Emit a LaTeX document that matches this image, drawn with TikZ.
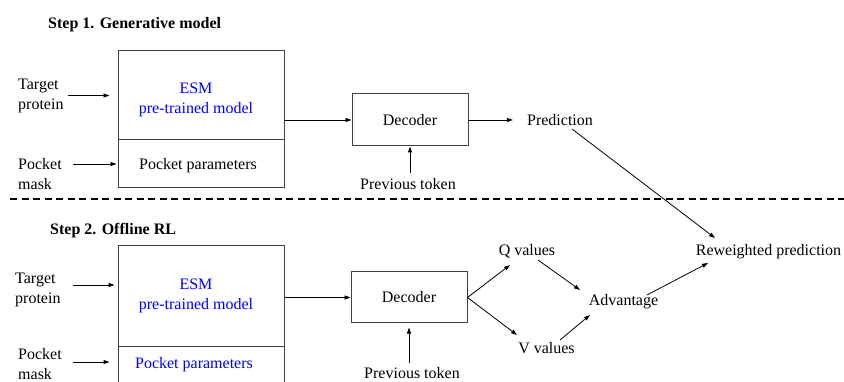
\documentclass[tikz,border=0pt]{standalone}
\usepackage{fontspec}
\setmainfont{Liberation Serif}
\usetikzlibrary{arrows.meta,calc}
\begin{document}
\begin{tikzpicture}[x=1pt,y=-1pt,
  font=\fontsize{16}{19.5}\selectfont,
  txt/.style={inner sep=0pt, align=left, anchor=west},
  ctxt/.style={inner sep=0pt, align=center},
  blk/.style={draw=black!75, line width=1pt, inner sep=0pt},
  arr/.style={-{Triangle[length=6pt,width=4pt]}, line width=0.8pt},
  ttl/.style={font=\fontsize{16}{19}\selectfont\bfseries, inner sep=0pt, anchor=base west},
  hl/.style={text=blue}]
\useasboundingbox (0,0) rectangle (844,382);
\clip (0,0) rectangle (844,382);

% ---------- Step 1 ----------
\node[ttl] (t1) at (48,29) {Step 1. Generative model};
\node[blk, minimum width=166pt, minimum height=89pt] (esm1) at (201,95.5) {};
\node[blk, minimum width=166pt, minimum height=48pt] (pp1) at (201,164) {};
\node[ctxt, hl] (esm1t) at (196,100) {ESM\\pre-trained model};
\node[ctxt] (pp1t) at (198,166) {Pocket parameters};
\node[txt] (tp1) at (18,96) {Target\\protein};
\node[txt] (pm1) at (18,174) {Pocket\\mask};
\node[blk, minimum width=116pt, minimum height=52pt] (dec1) at (410,120) {Decoder};
\node[ctxt] (pred) at (560,120) {Prediction};
\node[ctxt] (prev1) at (408,184) {Previous token};

\draw[arr] ([xshift=4pt]tp1.east |- esm1.west) -- ([xshift=-8pt]esm1.west);
\draw[arr] ([xshift=11pt]pm1.east |- pp1.west) -- ([xshift=-1pt]pp1.west);
\draw[arr] (dec1.west -| esm1.east) -- (dec1.west);
\draw[arr] (dec1.east) -- ([xshift=-14pt]pred.west);
\draw[arr] ([yshift=5pt]prev1.north -| dec1.south) -- (dec1.south);

% ---------- separator ----------
\coordinate (sepL) at (10,199);
\coordinate (sepR) at (844,199);
\draw[line width=1.2pt, dash pattern=on 7pt off 4.5pt] (sepL) -- (sepR);

% ---------- Step 2 ----------
\node[ttl] (t2) at (50,235) {Step 2. Offline RL};
\node[blk, minimum width=166pt, minimum height=100pt] (esm2) at (201,296) {};
\node[blk, minimum width=166pt, minimum height=46pt] (pp2) at (201,369) {};
\node[ctxt, hl] (esm2t) at (196,296) {ESM\\pre-trained model};
\node[ctxt, hl] (pp2t) at (194,365) {Pocket parameters};
\node[txt] (tp2) at (15,290) {Target\\protein};
\node[txt] (pm2) at (18,364) {Pocket\\mask};
\node[blk, minimum width=116pt, minimum height=51pt] (dec2) at (409,297.5) {Decoder};
\node[ctxt] (prev2) at (412,373.5) {Previous token};
\node[ctxt] (qv) at (527,251.5) {Q values};
\node[ctxt] (vv) at (546.5,348) {V values};
\node[ctxt] (adv) at (623.5,302) {Advantage};
\node[ctxt] (rew) at (768.5,252) {Reweighted prediction};

\draw[arr] ([shift={(12pt,5pt)}]tp2.east) -- ([shift={(-3pt,5pt)}]tp2.east -| esm2.west);
\draw[arr] ([shift={(11pt,2pt)}]pm2.east) -- ([shift={(-8pt,2pt)}]pm2.east -| pp2.west);
\draw[arr] (dec2.west -| esm2.east) -- (dec2.west);
\draw[arr] ([yshift=5pt]prev2.north -| dec2.south) -- ([yshift=-4pt]dec2.south);
\draw[arr] (dec2.east) -- ($(qv.center)+(-17,13.5)$);
\draw[arr] (dec2.east) -- ($(vv.center)+(-29.5,-13)$);
\draw[arr] ($(qv.center)+(11,8.5)$) -- ($(adv.center)+(-43.5,-12)$);
\draw[arr] ($(vv.center)+(13.5,-8)$) -- ($(adv.center)+(-33.5,13)$);
\draw[arr] ($(adv.center)+(23.5,-7)$) -- ($(rew.center)+(-60.5,11)$);
\draw[arr] ($(pred.center)+(12,9)$) -- ($(rew.center)+(-53.5,-14)$);
\end{tikzpicture}
\end{document}
